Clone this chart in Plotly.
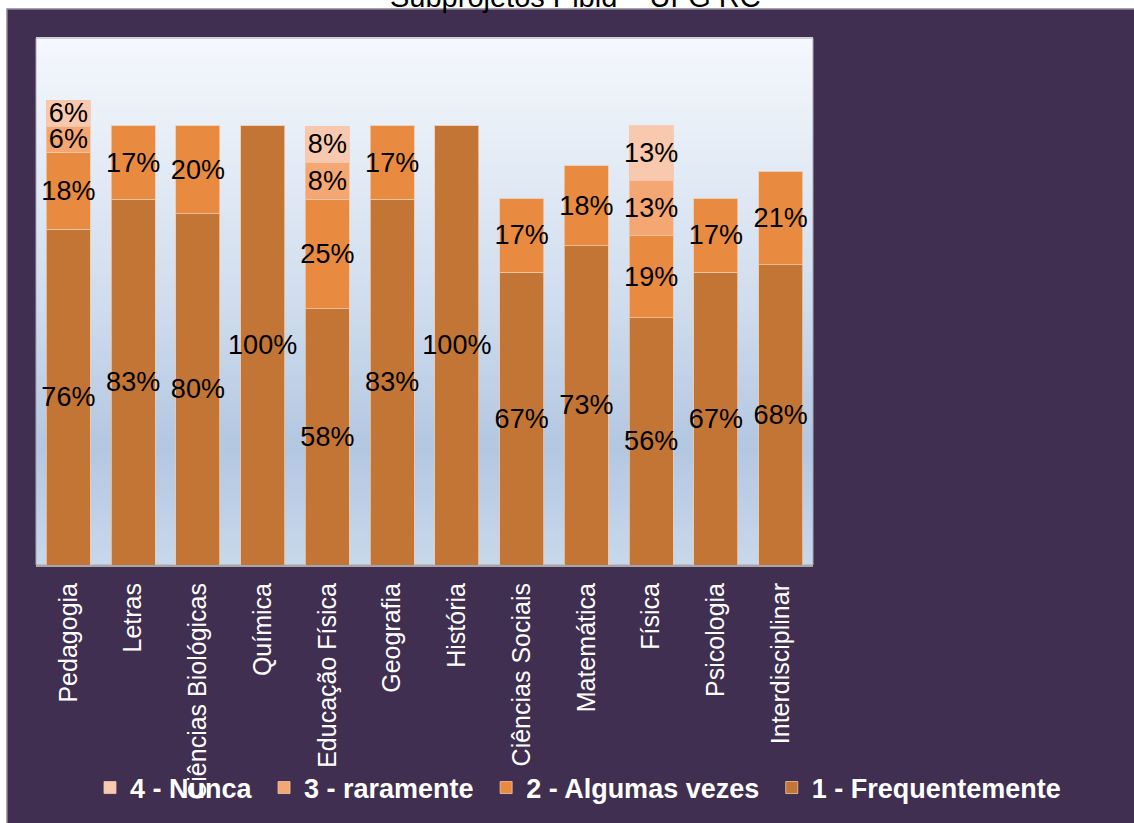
import plotly.graph_objects as go

categories = ["Pedagogia", "Letras", "Ciências Biológicas", "Química", "Educação Física",
              "Geografia", "História", "Ciências Sociais", "Matemática", "Física",
              "Psicologia", "Interdisciplinar"]
frequentemente = [76.4, 83.3, 80, 100, 58.3, 83.3, 100, 66.7, 72.7, 56.25, 66.7, 68.4]
algumas_vezes = [17.6, 16.7, 20, None, 25, 16.7, None, 16.7, 18.2, 18.75, 16.7, 21.1]
raramente = [5.9, None, None, None, 8.3, None, None, None, None, 12.5, None, None]
nunca = [5.9, None, None, None, 8.3, None, None, None, None, 12.5, None, None]

series_names = ["1 - Frequentemente", "2 - Algumas vezes", "3 - raramente", "4 - Nunca"]
series_values = [frequentemente, algumas_vezes, raramente, nunca]
series_colors = ["#c27535", "#e88b41", "#f5a773", "#f9c9af"]

title_text = "Subprojetos Pibid – UFG RC"

FIG_W, FIG_H = 1134, 823
L, R, T, B = 36, 1134 - 813, 38, 823 - 565
PW, PH = FIG_W - L - R, FIG_H - T - B


def px_x(x):
    return (x - L) / PW


def px_y(y):
    return (FIG_H - B - y) / PH


def label(v):
    return "" if v is None else f"{int(v + 0.5)}%"


fig = go.Figure()
for i, (name, vals, col) in enumerate(zip(series_names, series_values, series_colors)):
    # a little extra spacing after every legend entry except the last one shown
    legend_name = name if i == 0 else name + "\u00a0"
    fig.add_trace(go.Bar(
        x=categories, y=vals, name=legend_name,
        marker=dict(color=col, line=dict(color="rgba(240,200,170,0.8)", width=1)),
        text=[label(v) for v in vals],
        textposition="inside", insidetextanchor="middle",
        textangle=0, constraintext="none",
        textfont=dict(family="Arial, Liberation Sans", size=27, color="#000000"),
        hoverinfo="skip",
    ))

# gradient background of plot area
stops = [(0.0, (245, 248, 252)), (0.5, (208, 221, 238)), (0.78, (179, 199, 225)), (1.0, (201, 216, 235))]


def grad(t):
    for (t0, c0), (t1, c1) in zip(stops[:-1], stops[1:]):
        if t0 <= t <= t1:
            f = (t - t0) / (t1 - t0)
            return "rgb(%d,%d,%d)" % tuple(round(a + (b - a) * f) for a, b in zip(c0, c1))
    return "rgb(%d,%d,%d)" % stops[-1][1]


shapes = []
N = 90
for i in range(N):
    t = (i + 0.5) / N
    shapes.append(dict(type="rect", xref="paper", yref="paper", x0=0, x1=1,
                       y0=1 - (i + 1) / N, y1=1 - i / N + 0.002,
                       fillcolor=grad(t), line=dict(width=0), layer="below"))
# plot area border
shapes.append(dict(type="rect", xref="paper", yref="paper", x0=0, x1=1, y0=0, y1=1,
                   line=dict(color="#a9a7b5", width=1), fillcolor="rgba(0,0,0,0)", layer="below"))
# white page margins (top / left)
shapes.append(dict(type="rect", xref="paper", yref="paper", x0=-1, x1=2, y0=px_y(9), y1=3,
                   fillcolor="white", line=dict(width=0), layer="below"))
shapes.append(dict(type="rect", xref="paper", yref="paper", x0=-1, x1=px_x(7), y0=-2, y1=3,
                   fillcolor="white", line=dict(width=0), layer="below"))
# frame of purple box
shapes.append(dict(type="rect", xref="paper", yref="paper", x0=px_x(7), x1=px_x(1145),
                   y0=px_y(835), y1=px_y(9),
                   line=dict(color="#8d8597", width=1.5), fillcolor="rgba(0,0,0,0)", layer="below"))

fig.update_layout(
    width=FIG_W, height=FIG_H,
    barmode="stack", bargap=0.32,
    paper_bgcolor="#402f50", plot_bgcolor="rgba(0,0,0,0)",
    margin=dict(l=L, r=R, t=T, b=B, pad=0, autoexpand=False),
    showlegend=True,
    legend=dict(orientation="h", traceorder="reversed",
                x=px_x(1066), xanchor="right", y=px_y(788), yanchor="middle",
                font=dict(family="Arial, Liberation Sans", size=27, color="white", weight="bold"),
                bgcolor="rgba(0,0,0,0)", itemclick=False, itemdoubleclick=False),
    xaxis=dict(showline=True, linecolor="#a6a6a6", linewidth=2, ticks="",
               tickangle=-90, ticklabelstandoff=6, automargin=False,
               tickfont=dict(family="Arial, Liberation Sans", size=25, color="white"),
               showgrid=False, zeroline=False, fixedrange=True),
    yaxis=dict(visible=False, range=[0, 120], showgrid=False, zeroline=False,
               automargin=False, fixedrange=True),
    shapes=shapes,
    annotations=[dict(text=title_text, xref="paper", yref="paper",
                      x=px_x(575), xanchor="center", y=px_y(15), yanchor="bottom",
                      showarrow=False,
                      font=dict(family="Arial, Liberation Sans", size=29, color="#000000"))],
)

fig.write_html("out.html", config={"displayModeBar": False},
               post_script="document.body.style.margin='0px';document.body.style.padding='0px';")
